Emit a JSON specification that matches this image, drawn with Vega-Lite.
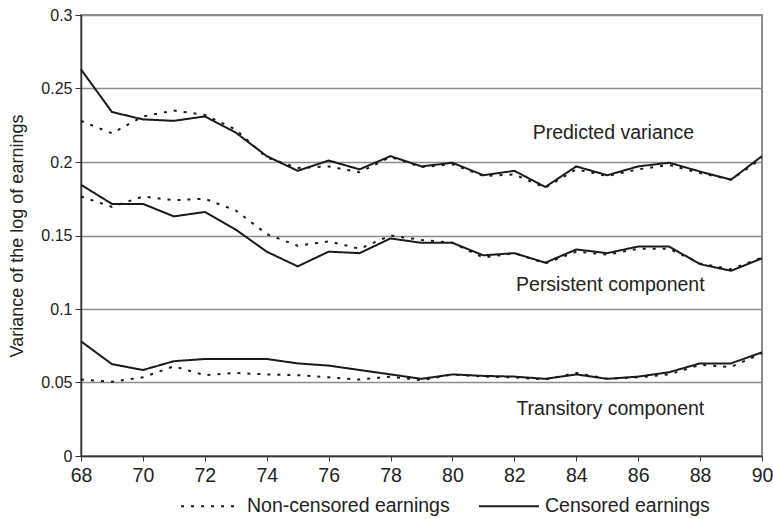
{
  "$schema": "https://vega.github.io/schema/vega-lite/v6.json",
  "width": 681,
  "height": 441,
  "autosize": {"type": "none"},
  "padding": {"left": 81, "top": 15, "right": 11, "bottom": 63},
  "background": "white",
  "config": {
    "view": {"stroke": "#8c8c8c", "strokeWidth": 2},
    "font": "Liberation Sans",
    "axis": {"labelColor": "#222", "titleColor": "#222", "labelFont": "Liberation Sans", "titleFont": "Liberation Sans"}
  },
  "datasets": {
    "lines": [
      {"year": 68, "series": "Predicted", "type": "Censored earnings", "value": 0.263},
      {"year": 69, "series": "Predicted", "type": "Censored earnings", "value": 0.234},
      {"year": 70, "series": "Predicted", "type": "Censored earnings", "value": 0.229},
      {"year": 71, "series": "Predicted", "type": "Censored earnings", "value": 0.228},
      {"year": 72, "series": "Predicted", "type": "Censored earnings", "value": 0.231},
      {"year": 73, "series": "Predicted", "type": "Censored earnings", "value": 0.220},
      {"year": 74, "series": "Predicted", "type": "Censored earnings", "value": 0.204},
      {"year": 75, "series": "Predicted", "type": "Censored earnings", "value": 0.194},
      {"year": 76, "series": "Predicted", "type": "Censored earnings", "value": 0.201},
      {"year": 77, "series": "Predicted", "type": "Censored earnings", "value": 0.195},
      {"year": 78, "series": "Predicted", "type": "Censored earnings", "value": 0.204},
      {"year": 79, "series": "Predicted", "type": "Censored earnings", "value": 0.197},
      {"year": 80, "series": "Predicted", "type": "Censored earnings", "value": 0.1995},
      {"year": 81, "series": "Predicted", "type": "Censored earnings", "value": 0.191},
      {"year": 82, "series": "Predicted", "type": "Censored earnings", "value": 0.194},
      {"year": 83, "series": "Predicted", "type": "Censored earnings", "value": 0.183},
      {"year": 84, "series": "Predicted", "type": "Censored earnings", "value": 0.197},
      {"year": 85, "series": "Predicted", "type": "Censored earnings", "value": 0.191},
      {"year": 86, "series": "Predicted", "type": "Censored earnings", "value": 0.197},
      {"year": 87, "series": "Predicted", "type": "Censored earnings", "value": 0.1995},
      {"year": 88, "series": "Predicted", "type": "Censored earnings", "value": 0.1935},
      {"year": 89, "series": "Predicted", "type": "Censored earnings", "value": 0.188},
      {"year": 90, "series": "Predicted", "type": "Censored earnings", "value": 0.204},

      {"year": 68, "series": "Predicted", "type": "Non-censored earnings", "value": 0.228},
      {"year": 69, "series": "Predicted", "type": "Non-censored earnings", "value": 0.2195},
      {"year": 70, "series": "Predicted", "type": "Non-censored earnings", "value": 0.231},
      {"year": 71, "series": "Predicted", "type": "Non-censored earnings", "value": 0.235},
      {"year": 72, "series": "Predicted", "type": "Non-censored earnings", "value": 0.232},
      {"year": 73, "series": "Predicted", "type": "Non-censored earnings", "value": 0.222},
      {"year": 74, "series": "Predicted", "type": "Non-censored earnings", "value": 0.203},
      {"year": 75, "series": "Predicted", "type": "Non-censored earnings", "value": 0.196},
      {"year": 76, "series": "Predicted", "type": "Non-censored earnings", "value": 0.197},
      {"year": 77, "series": "Predicted", "type": "Non-censored earnings", "value": 0.193},
      {"year": 78, "series": "Predicted", "type": "Non-censored earnings", "value": 0.2035},
      {"year": 79, "series": "Predicted", "type": "Non-censored earnings", "value": 0.1965},
      {"year": 80, "series": "Predicted", "type": "Non-censored earnings", "value": 0.1985},
      {"year": 81, "series": "Predicted", "type": "Non-censored earnings", "value": 0.1905},
      {"year": 82, "series": "Predicted", "type": "Non-censored earnings", "value": 0.1915},
      {"year": 83, "series": "Predicted", "type": "Non-censored earnings", "value": 0.1825},
      {"year": 84, "series": "Predicted", "type": "Non-censored earnings", "value": 0.195},
      {"year": 85, "series": "Predicted", "type": "Non-censored earnings", "value": 0.1905},
      {"year": 86, "series": "Predicted", "type": "Non-censored earnings", "value": 0.195},
      {"year": 87, "series": "Predicted", "type": "Non-censored earnings", "value": 0.198},
      {"year": 88, "series": "Predicted", "type": "Non-censored earnings", "value": 0.1925},
      {"year": 89, "series": "Predicted", "type": "Non-censored earnings", "value": 0.188},
      {"year": 90, "series": "Predicted", "type": "Non-censored earnings", "value": 0.2025},

      {"year": 68, "series": "Persistent", "type": "Censored earnings", "value": 0.1845},
      {"year": 69, "series": "Persistent", "type": "Censored earnings", "value": 0.1715},
      {"year": 70, "series": "Persistent", "type": "Censored earnings", "value": 0.1715},
      {"year": 71, "series": "Persistent", "type": "Censored earnings", "value": 0.163},
      {"year": 72, "series": "Persistent", "type": "Censored earnings", "value": 0.166},
      {"year": 73, "series": "Persistent", "type": "Censored earnings", "value": 0.154},
      {"year": 74, "series": "Persistent", "type": "Censored earnings", "value": 0.139},
      {"year": 75, "series": "Persistent", "type": "Censored earnings", "value": 0.129},
      {"year": 76, "series": "Persistent", "type": "Censored earnings", "value": 0.139},
      {"year": 77, "series": "Persistent", "type": "Censored earnings", "value": 0.138},
      {"year": 78, "series": "Persistent", "type": "Censored earnings", "value": 0.148},
      {"year": 79, "series": "Persistent", "type": "Censored earnings", "value": 0.145},
      {"year": 80, "series": "Persistent", "type": "Censored earnings", "value": 0.145},
      {"year": 81, "series": "Persistent", "type": "Censored earnings", "value": 0.1365},
      {"year": 82, "series": "Persistent", "type": "Censored earnings", "value": 0.138},
      {"year": 83, "series": "Persistent", "type": "Censored earnings", "value": 0.1315},
      {"year": 84, "series": "Persistent", "type": "Censored earnings", "value": 0.1405},
      {"year": 85, "series": "Persistent", "type": "Censored earnings", "value": 0.138},
      {"year": 86, "series": "Persistent", "type": "Censored earnings", "value": 0.1425},
      {"year": 87, "series": "Persistent", "type": "Censored earnings", "value": 0.1425},
      {"year": 88, "series": "Persistent", "type": "Censored earnings", "value": 0.1305},
      {"year": 89, "series": "Persistent", "type": "Censored earnings", "value": 0.126},
      {"year": 90, "series": "Persistent", "type": "Censored earnings", "value": 0.1345},

      {"year": 68, "series": "Persistent", "type": "Non-censored earnings", "value": 0.1765},
      {"year": 69, "series": "Persistent", "type": "Non-censored earnings", "value": 0.1695},
      {"year": 70, "series": "Persistent", "type": "Non-censored earnings", "value": 0.1765},
      {"year": 71, "series": "Persistent", "type": "Non-censored earnings", "value": 0.174},
      {"year": 72, "series": "Persistent", "type": "Non-censored earnings", "value": 0.175},
      {"year": 73, "series": "Persistent", "type": "Non-censored earnings", "value": 0.167},
      {"year": 74, "series": "Persistent", "type": "Non-censored earnings", "value": 0.151},
      {"year": 75, "series": "Persistent", "type": "Non-censored earnings", "value": 0.143},
      {"year": 76, "series": "Persistent", "type": "Non-censored earnings", "value": 0.146},
      {"year": 77, "series": "Persistent", "type": "Non-censored earnings", "value": 0.141},
      {"year": 78, "series": "Persistent", "type": "Non-censored earnings", "value": 0.150},
      {"year": 79, "series": "Persistent", "type": "Non-censored earnings", "value": 0.147},
      {"year": 80, "series": "Persistent", "type": "Non-censored earnings", "value": 0.145},
      {"year": 81, "series": "Persistent", "type": "Non-censored earnings", "value": 0.135},
      {"year": 82, "series": "Persistent", "type": "Non-censored earnings", "value": 0.138},
      {"year": 83, "series": "Persistent", "type": "Non-censored earnings", "value": 0.131},
      {"year": 84, "series": "Persistent", "type": "Non-censored earnings", "value": 0.139},
      {"year": 85, "series": "Persistent", "type": "Non-censored earnings", "value": 0.137},
      {"year": 86, "series": "Persistent", "type": "Non-censored earnings", "value": 0.141},
      {"year": 87, "series": "Persistent", "type": "Non-censored earnings", "value": 0.141},
      {"year": 88, "series": "Persistent", "type": "Non-censored earnings", "value": 0.131},
      {"year": 89, "series": "Persistent", "type": "Non-censored earnings", "value": 0.127},
      {"year": 90, "series": "Persistent", "type": "Non-censored earnings", "value": 0.135},

      {"year": 68, "series": "Transitory", "type": "Censored earnings", "value": 0.078},
      {"year": 69, "series": "Transitory", "type": "Censored earnings", "value": 0.0625},
      {"year": 70, "series": "Transitory", "type": "Censored earnings", "value": 0.0585},
      {"year": 71, "series": "Transitory", "type": "Censored earnings", "value": 0.0645},
      {"year": 72, "series": "Transitory", "type": "Censored earnings", "value": 0.066},
      {"year": 73, "series": "Transitory", "type": "Censored earnings", "value": 0.066},
      {"year": 74, "series": "Transitory", "type": "Censored earnings", "value": 0.066},
      {"year": 75, "series": "Transitory", "type": "Censored earnings", "value": 0.063},
      {"year": 76, "series": "Transitory", "type": "Censored earnings", "value": 0.0615},
      {"year": 77, "series": "Transitory", "type": "Censored earnings", "value": 0.0585},
      {"year": 78, "series": "Transitory", "type": "Censored earnings", "value": 0.0555},
      {"year": 79, "series": "Transitory", "type": "Censored earnings", "value": 0.0525},
      {"year": 80, "series": "Transitory", "type": "Censored earnings", "value": 0.0555},
      {"year": 81, "series": "Transitory", "type": "Censored earnings", "value": 0.0545},
      {"year": 82, "series": "Transitory", "type": "Censored earnings", "value": 0.054},
      {"year": 83, "series": "Transitory", "type": "Censored earnings", "value": 0.0525},
      {"year": 84, "series": "Transitory", "type": "Censored earnings", "value": 0.0555},
      {"year": 85, "series": "Transitory", "type": "Censored earnings", "value": 0.0525},
      {"year": 86, "series": "Transitory", "type": "Censored earnings", "value": 0.054},
      {"year": 87, "series": "Transitory", "type": "Censored earnings", "value": 0.057},
      {"year": 88, "series": "Transitory", "type": "Censored earnings", "value": 0.063},
      {"year": 89, "series": "Transitory", "type": "Censored earnings", "value": 0.063},
      {"year": 90, "series": "Transitory", "type": "Censored earnings", "value": 0.0705},

      {"year": 68, "series": "Transitory", "type": "Non-censored earnings", "value": 0.052},
      {"year": 69, "series": "Transitory", "type": "Non-censored earnings", "value": 0.0505},
      {"year": 70, "series": "Transitory", "type": "Non-censored earnings", "value": 0.0535},
      {"year": 71, "series": "Transitory", "type": "Non-censored earnings", "value": 0.061},
      {"year": 72, "series": "Transitory", "type": "Non-censored earnings", "value": 0.055},
      {"year": 73, "series": "Transitory", "type": "Non-censored earnings", "value": 0.0565},
      {"year": 74, "series": "Transitory", "type": "Non-censored earnings", "value": 0.0555},
      {"year": 75, "series": "Transitory", "type": "Non-censored earnings", "value": 0.055},
      {"year": 76, "series": "Transitory", "type": "Non-censored earnings", "value": 0.0535},
      {"year": 77, "series": "Transitory", "type": "Non-censored earnings", "value": 0.052},
      {"year": 78, "series": "Transitory", "type": "Non-censored earnings", "value": 0.054},
      {"year": 79, "series": "Transitory", "type": "Non-censored earnings", "value": 0.0515},
      {"year": 80, "series": "Transitory", "type": "Non-censored earnings", "value": 0.0555},
      {"year": 81, "series": "Transitory", "type": "Non-censored earnings", "value": 0.054},
      {"year": 82, "series": "Transitory", "type": "Non-censored earnings", "value": 0.0535},
      {"year": 83, "series": "Transitory", "type": "Non-censored earnings", "value": 0.052},
      {"year": 84, "series": "Transitory", "type": "Non-censored earnings", "value": 0.0565},
      {"year": 85, "series": "Transitory", "type": "Non-censored earnings", "value": 0.0525},
      {"year": 86, "series": "Transitory", "type": "Non-censored earnings", "value": 0.0535},
      {"year": 87, "series": "Transitory", "type": "Non-censored earnings", "value": 0.0555},
      {"year": 88, "series": "Transitory", "type": "Non-censored earnings", "value": 0.062},
      {"year": 89, "series": "Transitory", "type": "Non-censored earnings", "value": 0.0605},
      {"year": 90, "series": "Transitory", "type": "Non-censored earnings", "value": 0.070}
    ],
    "labels": [
      {"label": "Predicted variance", "year": 85.2, "value": 0.220},
      {"label": "Persistent component", "year": 85.1, "value": 0.1163},
      {"label": "Transitory component", "year": 85.1, "value": 0.032}
    ]
  },
  "layer": [
    {
      "data": {"name": "lines"},
      "mark": {"type": "line", "color": "#1a1a1a", "strokeWidth": 2},
      "encoding": {
        "x": {
          "field": "year", "type": "quantitative",
          "scale": {"domain": [68, 90], "nice": false, "zero": false},
          "axis": {
            "title": null,
            "values": [68,69,70,71,72,73,74,75,76,77,78,79,80,81,82,83,84,85,86,87,88,89,90],
            "labelExpr": "datum.value % 2 == 0 ? datum.label : ''",
            "labelOverlap": false,
            "labelFlush": false,
            "grid": false,
            "domainColor": "#333", "domainWidth": 1.5,
            "tickColor": "#333", "tickWidth": 1, "tickSize": 5,
            "labelFontSize": 19.5, "labelFont": "Liberation Sans", "labelPadding": 5
          }
        },
        "y": {
          "field": "value", "type": "quantitative",
          "scale": {"domain": [0, 0.3], "nice": false},
          "axis": {
            "title": "Variance of the log of earnings",
            "titleFontSize": 18, "titleFontWeight": "normal", "titlePadding": 14,
            "values": [0, 0.05, 0.1, 0.15, 0.2, 0.25, 0.3],
            "format": ".2~f",
            "grid": true, "gridColor": "#8c8c8c", "gridWidth": 1.5,
            "domainColor": "#333", "domainWidth": 1.5,
            "tickColor": "#333", "tickWidth": 1, "tickSize": 6,
            "labelFontSize": 16, "labelPadding": 3
          }
        },
        "detail": {"field": "series"},
        "strokeDash": {
          "field": "type", "type": "nominal",
          "scale": {"domain": ["Non-censored earnings", "Censored earnings"], "range": [[3, 7], [1, 0]]},
          "legend": {
            "title": null,
            "orient": "none",
            "legendX": 99,
            "legendY": 460,
            "direction": "horizontal",
            "symbolType": "stroke",
            "symbolSize": 3600,
            "symbolStrokeWidth": 2,
            "symbolStrokeColor": "#1a1a1a",
            "symbolDash": null,
            "labelFontSize": 19.5,
            "labelFont": "Liberation Sans",
            "labelColor": "#222",
            "labelLimit": 400,
            "labelOffset": 5,
            "columnPadding": 25
          }
        }
      }
    },
    {
      "data": {"name": "labels"},
      "mark": {"type": "text", "fontSize": 19.5, "color": "#222", "align": "center", "baseline": "middle"},
      "encoding": {
        "x": {"field": "year", "type": "quantitative"},
        "y": {"field": "value", "type": "quantitative"},
        "text": {"field": "label"}
      }
    }
  ]
}
